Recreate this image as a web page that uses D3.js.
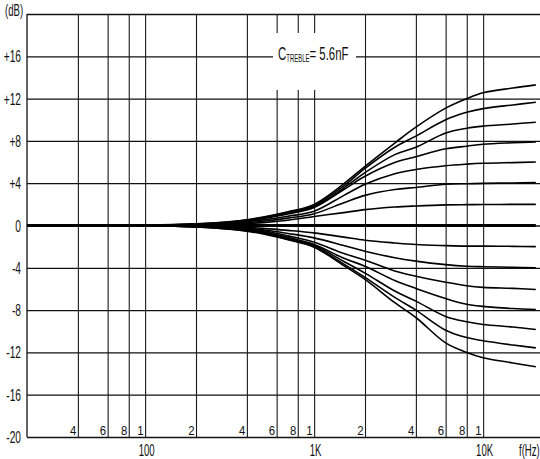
<!DOCTYPE html>
<html>
<head>
<meta charset="utf-8">
<script src="https://cdn.jsdelivr.net/npm/d3@7"></script>
<style>
  html, body { margin: 0; padding: 0; background: #fff; }
  svg { display: block; }
  text { font-family: "Liberation Sans", Arial, sans-serif; fill: #111; }
</style>
</head>
<body>
<svg id="chart" width="540" height="459"></svg>
<script>
const freqs = [20, 100, 200, 300, 400, 500, 700, 1000, 1500, 2000, 3000, 4000, 6000, 8000, 10000, 15000, 20500];

// boost curves (dB)
const boost7 = [0, 0.03, 0.15, 0.33, 0.55, 0.8, 1.3, 2.0, 3.95, 5.6, 7.8, 9.3, 11.1, 12.0, 12.55, 13.0, 13.3];
const boost6 = [0, 0.03, 0.14, 0.31, 0.52, 0.76, 1.25, 1.9, 3.75, 5.4, 7.4, 8.45, 10.0, 10.7, 11.05, 11.4, 11.65];
const boost5 = [0, 0.03, 0.13, 0.29, 0.48, 0.72, 1.18, 1.8, 3.55, 5.0, 6.7, 7.4, 8.75, 9.2, 9.4, 9.6, 9.77];
const boost4 = [0, 0.02, 0.12, 0.26, 0.44, 0.66, 1.08, 1.7, 3.4, 4.65, 5.95, 6.5, 7.25, 7.5, 7.68, 7.82, 7.9];
const boost3 = [0, 0.02, 0.1, 0.22, 0.36, 0.53, 0.88, 1.35, 2.85, 3.9, 4.9, 5.3, 5.65, 5.8, 5.88, 5.95, 6.0];
const boost2 = [0, 0.01, 0.07, 0.16, 0.27, 0.4, 0.7, 1.12, 2.15, 2.85, 3.4, 3.6, 3.9, 3.95, 3.98, 4.02, 4.05];
const boost1 = [0, 0.01, 0.04, 0.1, 0.18, 0.27, 0.5, 0.85, 1.22, 1.5, 1.75, 1.85, 1.95, 1.97, 1.98, 2.0, 2.0];
// flat
const flat   = [0, 0, 0, 0, 0, 0, 0, 0, 0, 0, 0, 0, 0, 0, 0, 0, 0];
// cut curves (dB)
const cut1 = [0, -0.01, -0.04, -0.1, -0.18, -0.27, -0.46, -0.7, -1.1, -1.39, -1.65, -1.8, -1.9, -1.95, -1.95, -1.97, -2.0];
const cut2 = [0, -0.01, -0.07, -0.15, -0.26, -0.4, -0.75, -1.17, -1.9, -2.43, -3.05, -3.37, -3.7, -3.85, -3.9, -3.95, -4.0];
const cut3 = [0, -0.02, -0.09, -0.2, -0.33, -0.5, -0.98, -1.58, -2.65, -3.28, -4.3, -4.8, -5.36, -5.7, -5.85, -5.95, -6.05];
const cut4 = [0, -0.02, -0.11, -0.24, -0.4, -0.6, -1.12, -1.8, -3.1, -3.85, -5.2, -5.95, -6.9, -7.45, -7.65, -7.85, -7.94];
const cut5 = [0, -0.03, -0.12, -0.27, -0.45, -0.68, -1.22, -1.9, -3.4, -4.5, -6.2, -7.15, -8.6, -9.1, -9.36, -9.6, -9.83];
const cut6 = [0, -0.03, -0.13, -0.3, -0.5, -0.74, -1.3, -2.0, -3.65, -4.9, -6.8, -8.0, -9.9, -10.6, -10.9, -11.3, -11.57];
const cut7 = [0, -0.03, -0.14, -0.32, -0.53, -0.8, -1.35, -2.05, -3.8, -5.1, -7.3, -8.7, -11.1, -12.0, -12.5, -13.0, -13.36];

const curves = [boost7, boost6, boost5, boost4, boost3, boost2, boost1, cut1, cut2, cut3, cut4, cut5, cut6, cut7];

// axis ticks
const yTicks = [-20, -16, -12, -8, -4, 0, 4, 8, 12, 16, 20];
const yLabels = ["-20", "-16", "-12", "-8", "-4", "0", "+4", "+8", "+12", "+16"];
const xGrid = [40, 60, 80, 100, 200, 400, 600, 800, 1000, 2000, 4000, 6000, 8000, 10000];
const xDigits = ["4", "6", "8", "1", "2", "4", "6", "8", "1", "2", "4", "6", "8", "1"];
const decadeTicks = [100, 1000, 10000];
const decadeLabels = ["100", "1K", "10K"];

const svg = d3.select('#chart');
const plotL = 27, plotR = 540, plotT = 14, plotB = 437;

const x = d3.scaleLog().domain([20, 21700]).range([plotL, plotR]);
const y = d3.scaleLinear().domain([-20, 20]).range([plotB, plotT]);

const SX = 0.6; // condensed type

function label(px, py, str, size, anchor, sx) {
  return svg.append('text')
    .attr('transform', `translate(${px},${py}) scale(${sx || SX},1)`)
    .attr('text-anchor', anchor || 'start')
    .style('font-size', size + 'px')
    .text(str);
}

// grid
const grid = svg.append('g').attr('class', 'grid');

grid.append('g')
  .attr('transform', `translate(${plotL},0)`)
  .call(d3.axisLeft(y).tickValues(yTicks).tickSize(-(plotR - plotL)).tickFormat(''))
  .call(g => g.select('.domain').remove())
  .call(g => g.selectAll('line').attr('stroke', '#111').attr('stroke-width', 1.3));

grid.append('g')
  .attr('transform', `translate(0,${plotB})`)
  .call(d3.axisBottom(x).tickValues(xGrid).tickSize(-(plotB - plotT)).tickFormat(''))
  .call(g => g.select('.domain').remove())
  .call(g => g.selectAll('line').attr('stroke', '#1a1a1a').attr('stroke-width', 1.1));

// left border
svg.append('line')
  .attr('x1', plotL).attr('x2', plotL).attr('y1', plotT).attr('y2', plotB)
  .attr('stroke', '#111').attr('stroke-width', 1.3);

// curves
const line = d3.line()
  .x((d, i) => x(freqs[i]))
  .y(d => y(d))
  .curve(d3.curveCatmullRom.alpha(0.5));

svg.append('g')
  .selectAll('path')
  .data(curves)
  .join('path')
  .attr('d', line)
  .attr('fill', 'none')
  .attr('stroke', '#000')
  .attr('stroke-width', 1.6);

svg.append('path')
  .attr('d', line(flat))
  .attr('fill', 'none')
  .attr('stroke', '#000')
  .attr('stroke-width', 2.8);

// annotation
svg.append('rect')
  .attr('x', 273).attr('y', 33).attr('width', 83).attr('height', 57)
  .attr('fill', '#fff');

const note = svg.append('text')
  .attr('transform', `translate(278,60) scale(${SX},1)`)
  .style('font-size', '19px');
note.append('tspan').text('C');
note.append('tspan').attr('dy', 2).style('font-size', '10px').text('TREBLE');
note.append('tspan').attr('dy', -2).text('= 5.6nF');

// y labels
yLabels.forEach((t, i) => label(21, y(yTicks[i]) + 6, t, 17, 'end'));
label(5, 16, '(dB)', 16, 'start');

// x digits inside the plot
xDigits.forEach((t, i) => label(x(xGrid[i]) - 1.5, plotB - 2, t, 12, 'end', 0.95));

// decade labels
decadeLabels.forEach((t, i) => label(x(decadeTicks[i]) + 1.5, 456, t, 16, 'middle'));
label(519, 456, 'f(Hz)', 16, 'start');
</script>
</body>
</html>
